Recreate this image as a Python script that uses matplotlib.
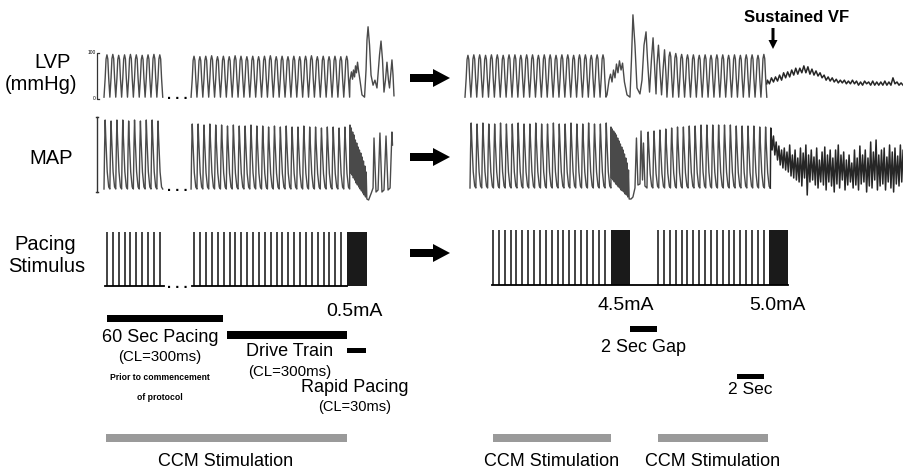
import matplotlib.pyplot as plt
from matplotlib.patches import FancyArrow

plt.rcParams['font.family'] = ['Liberation Sans', 'DejaVu Sans']

W, H = 904, 470
PX = 13.5      # pixels per second (2 Sec bar = 27 px)
CL = 0.435     # beat / stimulus period, s

# ---------------- left panel (t = 0 at start of 60 s pacing strip) ----------------
lvp_pre = [96, 97, 95, 96, 97, 96, 95, 96, 97, 96]
lvp_drive = [93, 92, 93, 94, 92, 93, 92, 94, 93, 92, 93, 92, 93, 94, 92, 93, 92, 93,
             92, 93, 94, 92, 93, 92, 93, 92, 93]
lvp_burst_t = [18.22, 18.33, 18.41, 18.48, 18.56, 18.63, 18.70, 18.78, 18.85, 18.96,
               19.11, 19.30, 19.41, 19.48, 19.56, 19.67, 19.78, 19.93, 20.07, 20.22,
               20.41, 20.52, 20.63, 20.74, 20.85, 20.96, 21.07, 21.15, 21.26, 21.33,
               21.41, 21.48]
lvp_burst_v = [41, 59, 43, 63, 48, 72, 57, 80, 63, 41, 9, 4, 63, 128, 157, 117, 52, 30,
               41, 24, 96, 126, 85, 15, 41, 80, 41, 24, 63, 85, 52, 7]

map_pre = [112, 111, 112, 112, 111, 112, 111, 112, 112, 111]
map_drive = [108, 108, 107, 108, 107, 107, 106, 107, 106, 106, 107, 106, 106, 105, 106,
             105, 106, 105, 105, 106, 105, 105, 104, 105, 105, 104, 105]
map_burst_hi = [107, 104, 100, 97, 92, 89, 85, 82, 79, 75, 71, 66, 60]
map_burst_lo = [59, 57, 54, 52, 49, 47, 45, 43, 41, 39, 37, 35, 33]
map_tail_t = [19.6, 19.8, 19.93, 20.0, 20.15, 20.3, 20.44, 20.59, 20.74, 20.89, 21.04,
              21.19, 21.33, 21.37]
map_tail_v = [32, 39, 44, 94, 40, 42, 99, 40, 42, 96, 42, 44, 100, 87]

pace_pre = (0.22, 10)      # (first stimulus, count)
pace_drive = (6.69, 26)
rapid_left = [(18.0, 19.48)]

# ---------------- right panel (t = 0 at start of strip) ----------------
lvp_r1 = [95, 96, 96, 95, 96, 96, 95, 96, 96, 95, 96, 96, 95, 96, 96, 95, 96, 96, 95,
          96, 96, 95, 96, 96]
lvp_rb_t = [10.52, 10.67, 10.78, 10.89, 11.0, 11.11, 11.22, 11.33, 11.44, 11.56, 11.67,
            11.81, 12.0, 12.22, 12.33, 12.44, 12.59, 12.74, 12.96, 13.11, 13.26, 13.41,
            13.52, 13.67, 13.81, 13.93, 14.04, 14.15, 14.22, 14.33, 14.44, 14.56, 14.67,
            14.78, 14.89, 14.96]
lvp_rb_v = [9, 41, 54, 37, 63, 46, 76, 57, 83, 63, 78, 37, 9, 4, 85, 183, 117, 24, 11,
            41, 117, 146, 85, 15, 85, 133, 74, 11, 74, 117, 63, 9, 63, 107, 52, 9]
lvp_r2 = [102, 99, 97, 96, 96, 95, 96, 95, 96, 96, 95, 96, 95, 96, 96, 95, 97]
lvp_vf_hi = [41, 46, 48, 52, 57, 59, 63, 67, 67, 72, 70, 65, 61, 57, 52, 48, 46, 43, 41,
             41, 39, 41, 39, 37, 39, 37, 39, 37, 37, 39, 37, 46, 37, 35]
lvp_vf_lo = [33, 37, 39, 41, 46, 48, 52, 54, 57, 57, 54, 52, 50, 46, 41, 39, 37, 35, 35,
             33, 33, 33, 30, 30, 33, 30, 30, 30, 30, 30, 30, 33, 30, 30]

map_r1 = [109, 108, 109, 108, 108, 109, 108, 108, 109, 108, 108, 109, 108, 108, 109,
          108, 108, 109, 108, 108, 109, 108, 108, 109]
map_rb_hi = [105, 103, 101, 99, 97, 94, 91, 88, 85, 82, 78, 74, 69, 62]
map_rb_lo = [54, 52, 50, 48, 47, 45, 44, 42, 41, 40, 38, 37, 35, 33]
map_ra_t = [12.3, 12.44, 12.59, 12.70, 12.81, 12.96, 13.04, 13.15, 13.22, 13.33, 13.48]
map_ra_v = [33, 35, 44, 94, 47, 48, 101, 52, 89, 46, 44]
map_r2 = [100, 101, 102, 103, 104, 105, 105, 106, 106, 107, 107, 107, 107, 107, 107,
          106, 106, 106, 106, 105, 105]
map_vf_hi = [104, 96, 90, 86, 82, 84, 80, 87, 77, 82, 74, 84, 79, 87, 77, 82, 75, 84, 72,
             80, 85, 77, 82, 74, 82, 87, 77, 80, 72, 77, 69, 82, 74, 86, 77, 82, 74, 90,
             80, 92, 77, 82, 84, 75, 87, 80, 84, 76, 87, 82]
map_vf_lo = [82, 77, 72, 67, 64, 62, 60, 56, 54, 52, 50, 46, 54, 37, 50, 52, 47, 44, 50,
             47, 42, 50, 46, 40, 48, 44, 52, 42, 47, 50, 44, 47, 42, 48, 50, 40, 46, 44,
             52, 42, 46, 48, 42, 50, 44, 40, 48, 46, 50, 47]

pace_r1 = (2.07, 20)
pace_r2 = (14.3, 19)
rapid_right = [(10.81, 12.22), (22.52, 23.93)]

# protocol bars (start, end) in s
bar_60s = (0.22, 8.81)
bar_drive = (9.11, 18.0)
bar_rapid = (18.0, 19.41)
ccm_left = (0.15, 18.0)
bar_gap = (12.22, 14.22)
bar_2s = (20.15, 22.15)
ccm_right = [(2.07, 10.81), (14.3, 22.44)]

# beat templates (phase within one cycle, fraction of pulse height)
lvp_phase = [0, 0.2, 0.35, 0.5, 0.65, 0.8, 1.0]
lvp_shape = [0, 0.45, 0.9, 1.0, 0.9, 0.45, 0]
map_phase = [0, 0.1, 0.2, 0.3, 0.55, 0.8, 1.0]
map_shape = [0, 0.6, 1.0, 0.75, 0.25, 0.03, 0]


def beat_train(t0, peaks, trough, phase, shape):
    t, v = [], []
    for i, pk in enumerate(peaks):
        for ph, s in zip(phase, shape):
            t.append(t0 + (i + ph) * CL)
            v.append(trough + (pk - trough) * s)
    return t, v


def zigzag(t0, step, hi, lo):
    t, v = [], []
    for i, (a, b) in enumerate(zip(hi, lo)):
        t += [t0 + i * step, t0 + (i + 0.5) * step]
        v += [a, b]
    return t, v


def join(*parts):
    t, v = [], []
    for pt, pv in parts:
        t += list(pt)
        v += list(pv)
    return t, v


fig = plt.figure(figsize=(W / 100, H / 100), dpi=100)

bg = fig.add_axes([0, 0, 1, 1])
bg.set_xlim(0, W)
bg.set_ylim(H, 0)
bg.axis('off')


def strip(x0, x1, y0, y1, t0px, v0px, ppu):
    ax = fig.add_axes([x0 / W, 1 - y1 / H, (x1 - x0) / W, (y1 - y0) / H])
    ax.set_facecolor('none')
    ax.set_xlim((x0 - t0px) / PX, (x1 - t0px) / PX)
    ax.set_ylim((v0px - y1) / ppu, (v0px - y0) / ppu)
    ax.axis('off')
    return ax


trace_kw = dict(color='#4a4a4a', lw=1.0, clip_on=False)
vf_kw = dict(color='#262626', lw=1.1, clip_on=False)

# ---- left LVP ----
ax = strip(78, 400, 5, 105, 104, 99, 0.46)
ax.plot(*beat_train(0, lvp_pre, 4, lvp_phase, lvp_shape), **trace_kw)
ax.plot(*join(beat_train(6.45, lvp_drive, 4, lvp_phase, lvp_shape),
              (lvp_burst_t, lvp_burst_v)), **trace_kw)
ax.plot([-0.38, -0.52, -0.52, -0.38], [100, 100, 0, 0], color='#333', lw=0.9)
ax.text(-0.62, 100, '100', fontsize=3.5, ha='right', va='center')
ax.text(-0.62, 0, '0', fontsize=3.5, ha='right', va='center')

# ---- left MAP ----
ax = strip(78, 400, 108, 212, 104, 232, 1.0)
ax.plot(*beat_train(0, map_pre, 43, map_phase, map_shape), **trace_kw)
ax.plot(*join(beat_train(6.45, map_drive, 43, map_phase, map_shape),
              zigzag(18.22, 0.1, map_burst_hi, map_burst_lo),
              (map_tail_t, map_tail_v)), **trace_kw)
ax.plot([-0.52, -0.52], [40, 115], color='#333', lw=1.0)
ax.plot([-0.6, -0.44], [115, 115], color='#333', lw=1.0)
ax.plot([-0.6, -0.44], [40, 40], color='#333', lw=1.0)

# ---- left pacing ----
ax = strip(78, 400, 222, 292, 104, 286, 54)
for t0, n in (pace_pre, pace_drive):
    ax.vlines([t0 + i * CL for i in range(n)], 0, 1, color='#222', lw=1.2)
ax.plot([0.05, 4.45], [0, 0], color='k', lw=1.3)
ax.plot([6.5, 18.0], [0, 0], color='k', lw=1.3)
for a, b in rapid_left:
    ax.fill_between([a, b], 0, 1, color='#1a1a1a', lw=0)

# ---- left protocol bars ----
ax = strip(78, 400, 295, 470, 104, 0, -1)
ax.barh(318, bar_60s[1] - bar_60s[0], left=bar_60s[0], height=7, color='k')
ax.barh(335, bar_drive[1] - bar_drive[0], left=bar_drive[0], height=8, color='k')
ax.barh(350, bar_rapid[1] - bar_rapid[0], left=bar_rapid[0], height=5, color='k')
ax.barh(438, ccm_left[1] - ccm_left[0], left=ccm_left[0], height=8, color='#9a9a9a')

# ---- right LVP ----
ax = strip(455, 904, 5, 105, 465, 99, 0.46)
r2 = beat_train(14.96, lvp_r2, 4, lvp_phase, lvp_shape)
ax.plot(*join(beat_train(0, lvp_r1, 4, lvp_phase, lvp_shape),
              (lvp_rb_t, lvp_rb_v), r2), **trace_kw)
ax.plot(*join(([r2[0][-1]], [lvp_vf_lo[0]]), zigzag(22.4, 0.3, lvp_vf_hi, lvp_vf_lo)),
        **vf_kw)

# ---- right MAP ----
ax = strip(455, 904, 108, 212, 465, 232, 1.0)
m2 = beat_train(13.48, map_r2, 44, map_phase, map_shape)
ax.plot(*join(beat_train(0.37, map_r1, 44, map_phase, map_shape),
              zigzag(10.81, 0.1, map_rb_hi, map_rb_lo),
              (map_ra_t, map_ra_v), m2), **trace_kw)
ax.plot(*join(([m2[0][-1]], [m2[1][-1]]), zigzag(22.65, 0.2, map_vf_hi, map_vf_lo)),
        **vf_kw)

# ---- right pacing ----
ax = strip(455, 904, 222, 292, 465, 285, 55)
for t0, n in (pace_r1, pace_r2):
    ax.vlines([t0 + i * CL for i in range(n)], 0, 1, color='#222', lw=1.2)
ax.plot([2.0, 23.93], [0, 0], color='k', lw=1.3)
for a, b in rapid_right:
    ax.fill_between([a, b], 0, 1, color='#1a1a1a', lw=0)

# ---- right protocol bars ----
ax = strip(455, 904, 295, 470, 465, 0, -1)
ax.barh(329, bar_gap[1] - bar_gap[0], left=bar_gap[0], height=6, color='k')
ax.barh(376, bar_2s[1] - bar_2s[0], left=bar_2s[0], height=5, color='k')
for a, b in ccm_right:
    ax.barh(438, b - a, left=a, height=8, color='#9a9a9a')

# ---- labels ----
big = 14.5
bg.text(53, 62, 'LVP', fontsize=big, ha='center', va='center')
bg.text(41, 84, '(mmHg)', fontsize=big, ha='center', va='center')
bg.text(51, 158, 'MAP', fontsize=big, ha='center', va='center')
bg.text(45, 245, 'Pacing', fontsize=big, ha='center', va='center')
bg.text(47, 267, 'Stimulus', fontsize=big, ha='center', va='center')

for y in (99, 191, 288):
    bg.text(177, y, '. . .', fontsize=10.5, fontweight='bold', ha='center', va='baseline')

for y in (78, 157, 253):
    bg.add_patch(FancyArrow(410, y, 40, 0, width=8, head_width=18, head_length=17,
                            length_includes_head=True, color='k', lw=0))

bg.text(797, 17, 'Sustained VF', fontsize=12, fontweight='bold', ha='center', va='center')
bg.add_patch(FancyArrow(773, 28, 0, 21, width=3, head_width=9, head_length=9,
                        length_includes_head=True, color='k', lw=0))

mid = 13
bg.text(354, 312, '0.5mA', fontsize=14, ha='center', va='center')
bg.text(160, 337, '60 Sec Pacing', fontsize=mid, ha='center', va='center')
bg.text(160, 357, '(CL=300ms)', fontsize=10.8, ha='center', va='center')
bg.text(160, 378, 'Prior to commencement', fontsize=6.2, fontweight='bold',
        ha='center', va='center')
bg.text(160, 397, 'of protocol', fontsize=6.2, fontweight='bold', ha='center', va='center')
bg.text(290, 352, 'Drive Train', fontsize=mid, ha='center', va='center')
bg.text(290, 372, '(CL=300ms)', fontsize=10.8, ha='center', va='center')
bg.text(355, 387, 'Rapid Pacing', fontsize=mid, ha='center', va='center')
bg.text(355, 407, '(CL=30ms)', fontsize=10.5, ha='center', va='center')
bg.text(226, 462, 'CCM Stimulation', fontsize=mid, ha='center', va='center')

bg.text(626, 306, '4.5mA', fontsize=14, ha='center', va='center')
bg.text(777, 306, '5.0mA', fontsize=14, ha='center', va='center')
bg.text(644, 348, '2 Sec Gap', fontsize=mid, ha='center', va='center')
bg.text(750, 390, '2 Sec', fontsize=12.5, ha='center', va='center')
bg.text(552, 462, 'CCM Stimulation', fontsize=mid, ha='center', va='center')
bg.text(713, 462, 'CCM Stimulation', fontsize=mid, ha='center', va='center')

fig.savefig('out.png', dpi=100)
